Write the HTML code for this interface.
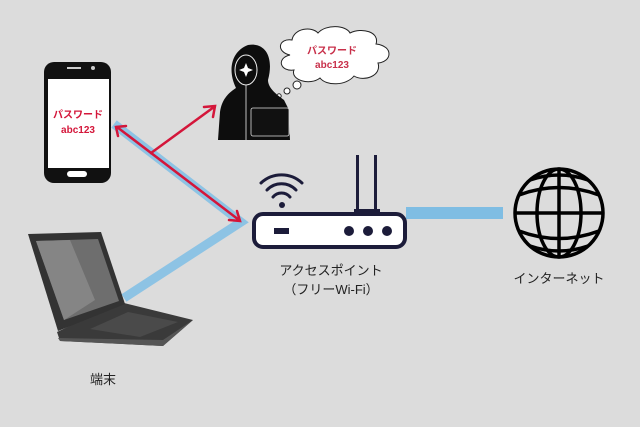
<!DOCTYPE html>
<html><head><meta charset="utf-8"><style>
html,body{margin:0;padding:0}
body{width:640px;height:427px;background:#dcdcdc;overflow:hidden;font-family:"Liberation Sans","Noto Sans CJK JP",sans-serif}
</style></head><body>
<svg width="640" height="427" viewBox="0 0 640 427" xmlns="http://www.w3.org/2000/svg" style="position:absolute;left:0;top:0">
<rect width="640" height="427" fill="#dcdcdc"/>
<polyline points="114,124 241,222 124,298" fill="none" stroke="#8dc3e4" stroke-width="9" stroke-linejoin="miter"/>
<rect x="406" y="207" width="97" height="12" fill="#7fbde3"/>
<g stroke="#d4163a" stroke-width="2.5" fill="none" stroke-linecap="round">
<line x1="117" y1="127" x2="239" y2="220"/>
<polyline points="118,136 116,127 126,126"/>
<polyline points="229,220 240,221 237,211"/>
<line x1="151" y1="153" x2="214" y2="107"/>
<polyline points="204,107 215,106 213,117"/>
</g>
<!-- phone -->
<rect x="44" y="62" width="67" height="121" rx="10" fill="#111"/>
<rect x="48" y="79" width="61" height="89" fill="#fff"/>
<rect x="67" y="171" width="20" height="6" rx="3" fill="#fff"/>
<rect x="67" y="67" width="14" height="2" fill="#ccc"/>
<circle cx="93" cy="68" r="2" fill="#ccc"/>
<text x="78" y="118" text-anchor="middle" font-size="10" font-weight="bold" fill="#d4163a">パスワード</text>
<text x="78" y="133" text-anchor="middle" font-size="10" font-weight="bold" fill="#d4163a">abc123</text>
<!-- cloud -->
<g fill="#fff" stroke="#222" stroke-width="1">
<path d="M290,55 C276,52 278,38 292,40 C294,28 312,26 318,33 C326,24 346,25 350,33 C362,27 380,32 376,44 C394,46 392,62 378,63 C382,76 364,82 354,76 C346,86 326,86 320,78 C310,86 290,80 294,70 C280,72 276,58 290,55 Z"/>
<circle cx="297" cy="85" r="4"/><circle cx="287" cy="91" r="3"/><circle cx="279" cy="96" r="2.2"/>
</g>
<text x="332" y="54" text-anchor="middle" font-size="10" font-weight="bold" fill="#c8304a">パスワード</text>
<text x="332" y="68" text-anchor="middle" font-size="10" font-weight="bold" fill="#c8304a">abc123</text>
<!-- hacker -->
<path d="M218,140 L220,112 C222,98 230,92 236,88 C228,72 230,52 248,45 C266,42 274,58 268,80 C268,88 276,94 284,100 L288,108 L290,140 Z" fill="#0d0d0d"/>
<ellipse cx="246" cy="70" rx="11" ry="15" fill="#0d0d0d" stroke="#eee" stroke-width="1"/>
<path d="M246,63 l2,5 5,2 -5,2 -2,5 -2,-5 -5,-2 5,-2z" fill="#fff"/>
<line x1="246" y1="85" x2="246" y2="140" stroke="#eee" stroke-width="0.8"/>
<rect x="251" y="108" width="38" height="28" rx="2" fill="#111" stroke="#ddd" stroke-width="0.8"/>
<!-- router -->
<rect x="356" y="155" width="3" height="58" fill="#1c1c3a"/>
<rect x="374" y="155" width="3" height="58" fill="#1c1c3a"/>
<rect x="354" y="209" width="26" height="5" fill="#1c1c3a"/>
<rect x="254" y="214" width="151" height="33" rx="9" fill="#fff" stroke="#1c1c3a" stroke-width="4"/>
<rect x="274" y="228" width="15" height="6" fill="#1c1c3a"/>
<circle cx="349" cy="231" r="5" fill="#1c1c3a"/><circle cx="368" cy="231" r="5" fill="#1c1c3a"/><circle cx="387" cy="231" r="5" fill="#1c1c3a"/>
<g fill="none" stroke="#1c1c3a" stroke-width="3" stroke-linecap="round">
<path d="M261,183 A30,30 0 0 1 302,183"/>
<path d="M267,190 A20,20 0 0 1 296,190"/>
<path d="M273,197 A11,11 0 0 1 290,197"/>
</g>
<circle cx="282" cy="205" r="3" fill="#1c1c3a"/>
<text x="331" y="275" text-anchor="middle" font-size="13" fill="#222">アクセスポイント</text>
<text x="331" y="294" text-anchor="middle" font-size="13" fill="#222">（フリーWi-Fi）</text>
<!-- globe -->
<g fill="none" stroke="#000" stroke-width="3.5">
<circle cx="559" cy="213" r="44"/>
<ellipse cx="559" cy="213" rx="22" ry="44"/>
<line x1="559" y1="169" x2="559" y2="257"/>
<path d="M519,195 Q559,180 599,195"/>
<path d="M516,213 L602,213"/>
<path d="M519,231 Q559,246 599,231"/>
<path d="M530,180 Q559,170 588,180"/>
<path d="M530,246 Q559,256 588,246"/>
</g>
<text x="559" y="283" text-anchor="middle" font-size="13" fill="#222">インターネット</text>
<!-- laptop -->
<path d="M57,332 L120,302 L193,320 L163,346 L60,341 Z" fill="#3a3a3a"/>
<path d="M58,338 L60,341 L163,346 L193,320 L163,340 Z" fill="#555"/>
<g fill="#ddd">
<path d="M90,329 L128,312 L178,322 L140,337 Z" fill="#4a4a4a"/>
</g>
<path d="M28,234 L101,232 L125,304 L58,331 Z" fill="#333"/>
<path d="M36,241 L98,239 L119,301 L64,320 Z" fill="#6e6e6e"/>
<path d="M36,241 L70,240 L95,300 L64,320 Z" fill="#858585"/>
<text x="103" y="384" text-anchor="middle" font-size="13" fill="#222">端末</text>
</svg>
</body></html>
